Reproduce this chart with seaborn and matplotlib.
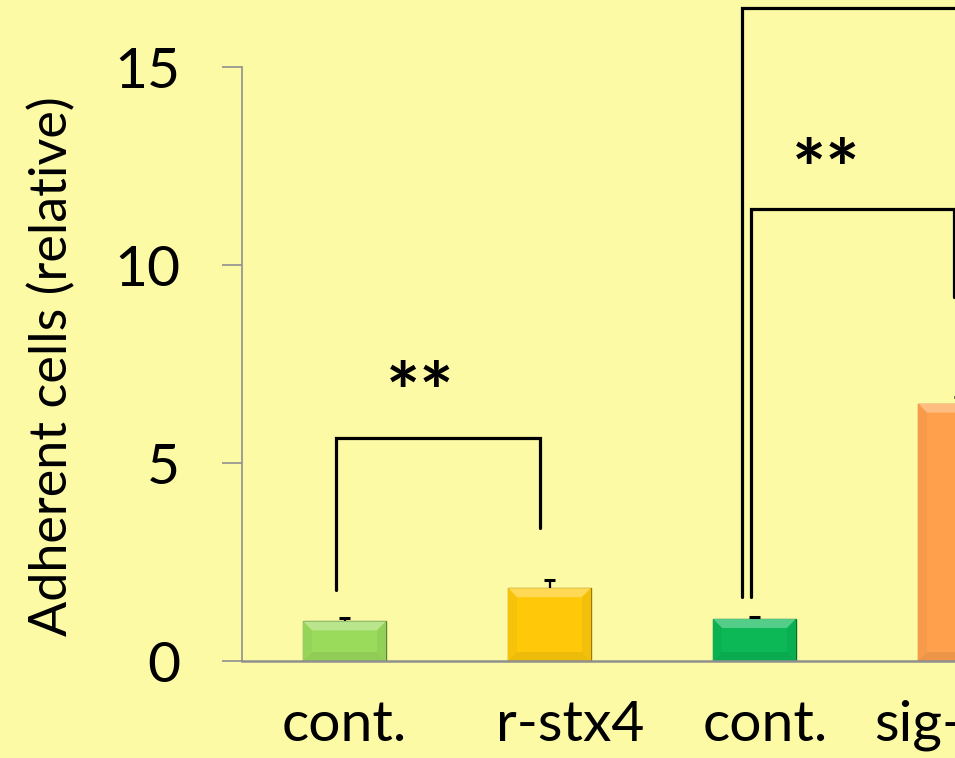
import numpy as np
import pandas as pd
import seaborn as sns
import matplotlib.pyplot as plt
from matplotlib.patches import Polygon
from matplotlib.transforms import IdentityTransform
from matplotlib.colors import to_rgb

# --- data -------------------------------------------------------------
group_keys = ["g1", "g2", "g3", "g4"]
categories = ["cont.", "r-stx4", "cont.", "sig-stx4"]
values = [1.0, 1.84, 1.06, 6.5]
errors = [0.08, 0.20, 0.05, 0.17]
bar_colors = ["#9BDB5C", "#FFC90A", "#0BB855", "#FFA04D"]
y_ticks = [0, 5, 10, 15]

# category captions sit slightly right of some bars
label_positions = [0.0, 1.10, 2.054, 3.06]

# significance brackets: (x_left, x_right, y_top, y_left_bottom, y_right_bottom)
brackets = [
    (-0.04, 0.956, 5.63, 1.79, 3.36),
    (1.985, 2.971, 11.41, 1.62, 9.19),
    (1.941, 4.60, 16.5, 1.62, 9.19),
]
stars = [(0.37, 6.65), (2.35, 12.28)]

bg = "#FDFAA6"
axis_gray = "#8F8F8F"

sns.set_theme(style="white")
plt.rcParams["font.family"] = ["Lato", "DejaVu Sans"]

fig = plt.figure(figsize=(9.55, 7.58), dpi=100)
fig.patch.set_facecolor(bg)
ax = fig.add_axes([242 / 955, 97 / 758, 820 / 955, 594 / 758])
ax.set_facecolor(bg)

df = pd.DataFrame({"group": group_keys, "value": values})
sns.barplot(data=df, x="group", y="value", hue="group", order=group_keys,
            palette=dict(zip(group_keys, bar_colors)), width=0.405,
            saturation=1, errorbar=None, legend=False, ax=ax, zorder=2)

ax.set_xlim(-0.5, 3.5)
ax.set_ylim(0, 15)
xs = np.arange(len(values))
tops = np.array(values) + np.array(errors)

# upper error bars: stem from the bar top plus a single cap
cap_half = 0.027
ax.vlines(xs, values, tops, color="black", lw=1.6, zorder=3)
ax.hlines(tops, xs - cap_half, xs + cap_half, color="black", lw=2.2, zorder=3)

ax.set_yticks(y_ticks)
ax.set_xticks(label_positions)
ax.set_xticklabels(categories)
ax.set_xlabel("")
ax.set_ylabel("")

for s in ("top", "right"):
    ax.spines[s].set_visible(False)
ax.spines["left"].set_color(axis_gray)
ax.spines["left"].set_linewidth(1.2)
ax.spines["bottom"].set_color(axis_gray)
ax.spines["bottom"].set_linewidth(1.8)
ax.spines["bottom"].set_zorder(4)

ax.tick_params(axis="y", direction="out", length=14.4, width=1.2,
               color=axis_gray, labelsize=41, pad=30, left=True,
               labelcolor="black")
ax.tick_params(axis="x", length=0, labelsize=41, pad=28, labelcolor="black")

fig.text(52 / 955, 1 - 366 / 758, "Adherent cells (relative)", rotation=90,
         ha="center", va="center", fontsize=37.5, color="black")

# bevelled bar faces
fig.canvas.draw()
bevel = 9
for patch, col in zip(ax.patches, bar_colors):
    rgb = np.array(to_rgb(col))
    light = np.clip(rgb + (1 - rgb) * 0.3, 0, 1)
    bb = patch.get_window_extent()
    x0, y0, x1, y1 = bb.x0, bb.y0, bb.x1, bb.y1
    b = min(bevel, (y1 - y0) / 2.5)
    faces = [
        ([(x0, y1), (x1, y1), (x1 - b, y1 - b), (x0 + b, y1 - b)], light),
        ([(x0, y0), (x0, y1), (x0 + b, y1 - b), (x0 + b, y0 + b)], rgb * 0.97),
        ([(x1, y0), (x1, y1), (x1 - b, y1 - b), (x1 - b, y0 + b)], rgb * 0.95),
        ([(x0, y0), (x1, y0), (x1 - b, y0 + b), (x0 + b, y0 + b)], rgb * 0.93),
    ]
    for pts, fc in faces:
        ax.add_patch(Polygon(pts, closed=True, facecolor=fc, edgecolor="none",
                             transform=IdentityTransform(), zorder=2.1,
                             clip_on=False))
    patch.set_edgecolor(rgb * 0.6)
    patch.set_linewidth(1.0)

# significance brackets
for xl, xr, yt, ylb, yrb in brackets:
    ax.plot([xl, xl, xr, xr], [ylb, yt, yt, yrb], color="black", lw=2.3,
            solid_joinstyle="miter", clip_on=False, zorder=5)
for sx, sy in stars:
    ax.text(sx, sy, "**", ha="center", va="center", fontsize=58,
            fontweight="bold", color="black", clip_on=False, zorder=5)

fig.savefig("out.png", dpi=100, facecolor=bg)
